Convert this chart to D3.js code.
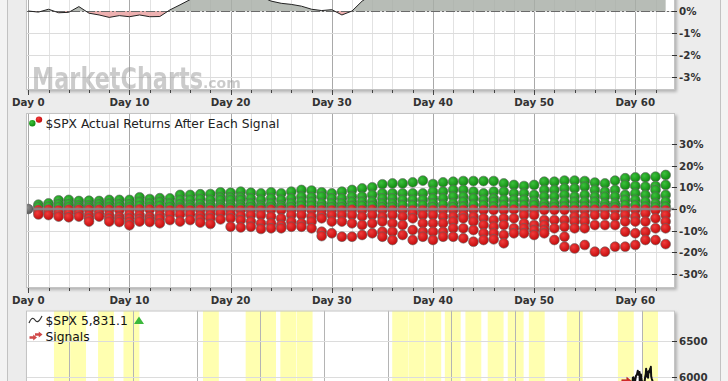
<!DOCTYPE html>
<html><head><meta charset="utf-8">
<script src="https://cdn.jsdelivr.net/npm/d3@7"></script>
<style>body{margin:0;background:#ececec;overflow:hidden}svg{display:block}</style>
</head><body><svg id="c" width="728" height="381"></svg>
<script>
// ---------------- DATA ----------------
// Top panel: average return (%) by day after signal
const avgDays = d3.range(0, 64);
const avgReturn = [0,-0.05,0.08,-0.08,-0.06,0.2,-0.1,-0.18,-0.29,-0.21,-0.26,-0.18,-0.26,-0.25,0.05,0.28,
  0.52,0.75,0.9,1.05,1.1,1.0,0.85,0.65,0.45,0.35,0.3,0.22,0.08,0.02,0.06,-0.18,0.0,0.45,0.75,1.0,
  1.2,1.3,1.4,1.5,1.45,1.55,1.7,1.8,1.7,1.6,1.75,1.65,1.6,1.7,1.65,1.9,2.0,2.1,2.15,2.2,2.1,2.05,
  2.2,2.4,2.45,2.5,2.6,2.7];

// Middle panel: actual returns (%) of each signal, per day after the signal
const returnDays = d3.range(1, 64);
const returnsByDay = [
 [2.0,1.0,-0.4,-1.5,-2.5],
 [2.6,1.2,-0.3,-1.8,-2.8],
 [4.0,2.3,1.0,-0.5,-2.0,-3.5],
 [4.2,2.3,1.0,-0.3,-2.0,-3.8],
 [3.7,1.8,0.8,-0.3,-2.0,-3.5],
 [3.8,1.8,0.8,-0.3,-2.8,-4.3,-5.8],
 [3.7,2.3,1.0,-0.3,-2.0,-3.5],
 [4.2,2.6,1.0,-0.3,-2.8,-4.3,-5.8],
 [4.2,2.3,1.0,-0.5,-3.5,-4.8,-6.0],
 [4.2,2.3,1.0,-0.3,-2.5,-4.3,-6.0,-7.5],
 [5.4,3.4,1.5,-0.2,-2.8,-4.5,-5.8],
 [4.6,2.6,1.0,-0.2,-3.5,-4.8,-6.0],
 [5.0,3.4,1.5,-0.3,-2.8,-4.5,-6.6],
 [4.9,2.6,1.0,-0.5,-2.5,-5.1],
 [6.5,4.2,2.3,0.8,-0.2,-2.5,-5.8],
 [6.5,4.2,2.0,0.8,-0.5,-2.5,-5.1],
 [6.8,4.6,2.3,0.8,-0.3,-2.8,-4.5,-6.3],
 [6.9,4.2,2.0,0.8,-0.5,-2.5,-4.3,-6.9],
 [7.7,5.5,4.2,2.0,0.8,-0.3,-2.0,-4.8],
 [7.5,5.5,4.2,2.0,0.8,-0.5,-2.5,-4.3,-8.2],
 [8.0,5.5,4.2,2.0,0.8,-0.5,-3.0,-5.1,-8.5],
 [7.5,4.9,2.6,1.0,-0.5,-2.8,-5.8,-8.2],
 [7.2,4.2,1.8,0.8,-0.5,-2.8,-6.6,-9.2],
 [7.7,4.9,2.6,1.0,-0.3,-3.5,-6.6,-8.9],
 [7.2,4.2,1.8,0.8,-0.5,-4.3,-7.4,-8.9],
 [8.0,4.9,2.6,1.0,-0.5,-2.8,-5.8,-8.2],
 [8.8,5.7,3.4,1.5,-0.3,-2.8,-6.6,-8.2],
 [8.5,5.4,3.4,1.5,-0.5,-3.5,-5.8,-8.9],
 [7.7,5.7,2.6,1.0,-0.5,-2.8,-4.3,-10.5,-12.5],
 [7.2,4.9,2.6,1.0,-0.5,-2.8,-5.8,-11.2],
 [8.0,4.9,2.6,1.0,-0.5,-2.8,-5.8,-12.8],
 [8.8,5.7,3.4,1.5,-0.3,-2.8,-6.6,-12.8],
 [9.5,5.7,3.4,1.5,-0.5,-3.5,-7.4,-12.0],
 [10.0,6.5,3.4,1.5,-0.3,-2.8,-6.6,-11.2],
 [11.4,7.2,4.9,2.6,1.0,-0.5,-3.5,-5.8,-10.5,-12.8],
 [11.8,7.2,4.9,2.6,1.0,-0.5,-2.8,-6.6,-10.5,-14.3],
 [11.8,7.2,4.2,1.8,-0.5,-3.5,-7.4,-12.0],
 [12.3,7.2,4.2,1.8,-0.5,-2.0,-4.3,-9.7,-14.3],
 [13.1,7.2,4.2,1.8,-0.5,-2.8,-6.6,-10.5,-12.8],
 [11.5,8.0,4.9,2.6,1.0,-0.5,-2.8,-6.6,-10.5,-14.3],
 [12.3,8.0,4.9,2.0,-0.5,-3.5,-6.6,-10.5,-12.8],
 [12.6,8.8,5.7,2.6,1.0,-0.5,-3.5,-5.8,-8.9,-12.8],
 [12.9,8.8,5.7,3.4,1.2,-0.5,-2.8,-4.3,-8.9,-13.5],
 [12.9,8.0,4.9,2.0,-0.3,-3.5,-5.8,-9.7,-15.1],
 [12.9,7.2,4.2,1.8,-0.5,-4.3,-7.4,-11.2,-14.3],
 [12.9,8.0,4.9,3.4,1.2,-0.5,-5.1,-8.2,-11.2,-14.0],
 [11.8,8.0,4.2,1.8,-0.5,-4.3,-7.4,-12.0,-15.8],
 [11.1,7.2,4.2,1.8,-0.3,-4.3,-8.9,-11.2],
 [10.6,7.2,4.2,1.8,-0.5,-2.8,-6.6,-8.9,-11.2],
 [11.1,6.5,3.4,1.8,-0.5,-2.8,-7.4,-9.7,-12.0],
 [12.6,8.8,5.7,2.6,1.0,-0.5,-5.1,-7.4,-9.7,-11.2],
 [12.6,8.8,5.7,2.6,1.0,-0.5,-5.1,-8.9,-14.3],
 [13.1,9.5,6.5,3.4,1.2,-0.5,-5.1,-8.2,-12.8,-17.4],
 [13.1,9.5,5.7,3.4,1.2,-0.5,-3.5,-5.8,-8.9,-18.2],
 [12.9,10.3,6.5,3.4,1.2,-0.5,-3.5,-5.8,-8.9,-16.6],
 [12.2,8.8,5.7,3.4,1.2,-0.3,-2.8,-7.4,-19.7],
 [11.8,8.0,5.7,2.6,1.0,-0.3,-2.8,-7.4,-19.7],
 [13.1,8.8,5.7,2.6,1.0,-0.3,-3.5,-7.4,-17.4],
 [14.2,11.1,6.5,4.2,1.8,-0.5,-2.8,-5.8,-10.5,-17.4],
 [14.6,10.6,7.2,4.2,1.8,-0.3,-3.5,-5.8,-11.2,-16.6],
 [14.6,10.3,6.5,3.4,1.2,-0.3,-2.0,-5.8,-10.5,-14.3],
 [14.9,10.6,8.8,5.7,2.6,1.0,-0.5,-4.3,-8.9,-14.3],
 [15.7,11.1,6.5,3.4,1.2,-0.5,-2.8,-5.8,-8.9,-16.2]
];

// Axis tick values
const dayLabelTicks = [0,10,20,30,40,50,60];
const topPctTicks = [0,-1,-2,-3];
const midPctTicks = [30,20,10,0,-10,-20,-30];
const priceTicks = [6000,6500];

// Bottom panel: $SPX price and signal dates
const priceDates = ["2015-04-01","2015-07-01","2015-10-01","2016-01-04","2016-04-01","2016-07-01","2016-10-03",
 "2017-01-03","2017-04-03","2017-07-03","2017-10-02","2018-01-02","2018-04-02","2018-07-02","2018-10-01",
 "2019-01-02","2019-04-01","2019-07-01","2019-10-01","2020-01-02","2020-04-01","2020-07-01","2020-10-01",
 "2021-01-04","2021-04-01","2021-07-01","2021-10-01","2022-01-03","2022-04-01","2022-07-01","2022-10-03",
 "2023-01-03","2023-04-03","2023-07-03","2023-10-02","2024-01-02","2024-04-01","2024-07-01","2024-09-03",
 "2024-10-15","2024-11-01","2024-11-05","2024-11-06","2024-11-08","2024-11-11","2024-11-12","2024-11-15",
 "2024-11-19","2024-11-22","2024-11-26","2024-11-29","2024-12-02","2024-12-06","2024-12-10","2024-12-13",
 "2024-12-16","2024-12-18","2024-12-20","2024-12-24","2024-12-27","2024-12-31","2025-01-03","2025-01-07",
 "2025-01-10","2025-01-13","2025-01-15","2025-01-17","2025-01-21","2025-01-23","2025-01-27","2025-01-30",
 "2025-02-03","2025-02-06","2025-02-11","2025-02-14","2025-02-18","2025-02-19","2025-02-21","2025-02-24",
 "2025-02-28","2025-03-03","2025-03-07","2025-03-13","2025-03-20","2025-03-28"];
const priceValues = [2085,2100,2080,1940,2065,2170,2126,2278,2384,2470,2575,2823,2648,2816,2711,
 2704,2945,2980,3037,3225,2912,3271,3270,3714,4181,4395,4605,4515,4131,4130,3872,
 4076,4169,4588,4194,4845,5035,5522,5762,5815,5729,5782,5929,5995,6001,5983,5870,
 5917,5969,6021,6032,6047,6090,6034,6051,6074,5872,5930,6040,5970,5882,5942,5909,
 5827,5836,5950,5997,6049,6119,6012,6071,5994,6084,6069,6115,6129,6144,6013,5983,
 5955,5850,5770,5522,5663,5831.1];
const signalDates = ["2016-01-04","2016-04-06","2016-09-13","2017-02-06","2018-05-08","2019-01-08","2019-04-01",
 "2019-07-26","2019-10-28","2021-04-28","2021-07-30","2021-11-04","2022-02-24","2022-06-22","2022-10-28",
 "2023-02-20","2023-06-21","2024-01-25","2024-11-13","2025-04-01"];
const windowDays = 91; // 63 trading days

// ---------------- DRAW ----------------
const W = 728, H = 381;
const FONT = "'DejaVu Sans', Verdana, sans-serif";
const svg = d3.select('#c');
const defs = svg.append('defs');
const parse = d3.timeParse('%Y-%m-%d');

svg.append('rect').attr('width', W).attr('height', H).attr('fill', '#ececec');
svg.append('rect').attr('x', 0).attr('width', 8).attr('height', H).attr('fill', '#f3f3f3');
svg.append('rect').attr('x', 720).attr('width', 8).attr('height', H).attr('fill', '#f3f3f3');
svg.append('line').attr('x1', 7.5).attr('x2', 7.5).attr('y1', 0).attr('y2', H).attr('stroke', '#c2c2c2');
svg.append('line').attr('x1', 720.5).attr('x2', 720.5).attr('y1', 0).attr('y2', H).attr('stroke', '#c2c2c2');

const blur = defs.append('filter').attr('id', 'sh').attr('x', '-5%').attr('y', '-5%').attr('width', '110%').attr('height', '110%');
blur.append('feGaussianBlur').attr('stdDeviation', 1.5);

function grad(id, c0, c1) {
  const g = defs.append('radialGradient').attr('id', id).attr('cx', '38%').attr('cy', '35%').attr('r', '65%');
  g.append('stop').attr('offset', '0%').attr('stop-color', c0);
  g.append('stop').attr('offset', '100%').attr('stop-color', c1);
}
grad('gG', '#3cc03c', '#0f8a0f');
grad('gR', '#f03c3c', '#c40c0c');
grad('gK', '#909090', '#5a5a5a');

const plotL = 26, plotR = 675;
const x = d3.scaleLinear().domain([0, 60]).range([28.3, 635.3]);

function panel(top, bottom, id) {
  svg.append('rect').attr('x', plotL + 2).attr('y', top + 2).attr('width', plotR - plotL).attr('height', bottom - top)
    .attr('fill', '#b4b4b4').attr('filter', 'url(#sh)');
  svg.append('rect').attr('x', plotL).attr('y', top).attr('width', plotR - plotL).attr('height', bottom - top)
    .attr('fill', '#fff');
  defs.append('clipPath').attr('id', id).append('rect')
    .attr('x', plotL).attr('y', top).attr('width', plotR - plotL).attr('height', bottom - top);
  return svg.append('g').attr('clip-path', `url(#${id})`);
}
function border(top, bottom) {
  svg.append('rect').attr('x', plotL + 0.5).attr('y', top + 0.5).attr('width', plotR - plotL - 1).attr('height', bottom - top - 1)
    .attr('fill', 'none').attr('stroke', '#c4c4c4');
}
function dayGrid(g, top, bottom) {
  const days = d3.range(0, 65, 2);
  g.selectAll(null).data(days).join('line')
    .attr('x1', d => Math.round(x(d)) + 0.5).attr('x2', d => Math.round(x(d)) + 0.5)
    .attr('y1', top).attr('y2', bottom)
    .attr('stroke', d => d % 10 === 0 ? '#a9a9a9' : '#e2e2e2');
}
function hGrid(g, vals, y) {
  g.selectAll(null).data(vals).join('line')
    .attr('x1', plotL).attr('x2', plotR)
    .attr('y1', d => Math.round(y(d)) + 0.5).attr('y2', d => Math.round(y(d)) + 0.5)
    .attr('stroke', '#dcdcdc');
}
function dayAxis(bottom) {
  const days = d3.range(0, 64, 2);
  svg.selectAll(null).data(days).join('line')
    .attr('x1', d => Math.round(x(d)) + 0.5).attr('x2', d => Math.round(x(d)) + 0.5)
    .attr('y1', bottom).attr('y2', d => bottom + (d % 10 === 0 ? 5 : 3))
    .attr('stroke', '#444');
  svg.selectAll(null).data(dayLabelTicks).join('text')
    .attr('x', d => x(d)).attr('y', bottom + 16).attr('text-anchor', 'middle')
    .attr('font-family', FONT).attr('font-weight', 'bold').attr('font-size', '10.3px').attr('fill', '#333')
    .text(d => 'Day ' + d);
}
function yAxis(vals, y, fmt, top, bottom) {
  const v = vals.filter(d => y(d) >= top - 1 && y(d) <= bottom + 12);
  svg.selectAll(null).data(v).join('line')
    .attr('x1', plotR - 3).attr('x2', plotR + 2)
    .attr('y1', d => Math.round(y(d)) + 0.5).attr('y2', d => Math.round(y(d)) + 0.5).attr('stroke', '#333');
  svg.selectAll(null).data(v).join('text')
    .attr('x', 679).attr('y', d => y(d)).attr('dy', '0.38em')
    .attr('font-family', FONT).attr('font-weight', 'bold').attr('font-size', '10.3px').attr('fill', '#333')
    .text(fmt);
}

// ---- Panel 1 ----
const p1Top = -120, p1Bot = 90;
const y1 = d3.scaleLinear().domain([0, -3]).range([11, 77]);
const g1 = panel(p1Top, p1Bot, 'c1');
dayGrid(g1, p1Top, p1Bot);
hGrid(g1, [3, 2, 1, 0, -1, -2, -3], y1);
// watermark (one text element so the parts do not collide)
const wm = g1.append('text').attr('x', 32).attr('y', 89).attr('font-family', FONT).attr('font-weight', 'bold')
  .attr('fill', '#999').attr('opacity', 0.5);
wm.append('tspan').attr('font-size', '30px').attr('textLength', 171).attr('lengthAdjust', 'spacingAndGlyphs').text('MarketCharts');
wm.append('tspan').attr('font-size', '14px').attr('dy', -1).text('.com');
const avg = avgDays.map((d, i) => ({ d, v: avgReturn[i] }));
const area = d3.area().x(p => x(p.d)).y0(y1(0)).y1(p => y1(p.v));
defs.append('clipPath').attr('id', 'abv').append('rect').attr('x', 0).attr('y', p1Top).attr('width', W).attr('height', y1(0) - p1Top);
defs.append('clipPath').attr('id', 'blw').append('rect').attr('x', 0).attr('y', y1(0)).attr('width', W).attr('height', 200);
g1.append('g').attr('clip-path', 'url(#abv)').append('path').datum(avg).attr('d', area)
  .attr('fill', '#a7ada6').attr('fill-opacity', 0.82);
g1.append('g').attr('clip-path', 'url(#blw)').append('path').datum(avg).attr('d', area)
  .attr('fill', '#eba3a3').attr('fill-opacity', 0.85);
g1.append('line').attr('x1', plotL).attr('x2', plotR).attr('y1', y1(0) + 0.5).attr('y2', y1(0) + 0.5)
  .attr('stroke', '#6a6a6a').attr('stroke-dasharray', '9,2,2,2');
g1.append('path').datum(avg).attr('d', d3.line().x(p => x(p.d)).y(p => y1(p.v)))
  .attr('fill', 'none').attr('stroke', '#222').attr('stroke-width', 1);
border(p1Top, p1Bot);
dayAxis(p1Bot);
yAxis(topPctTicks, y1, d => d + '%', 0, p1Bot);

// ---- Panel 2 ----
const p2Top = 113, p2Bot = 288;
const y2 = d3.scaleLinear().domain([30, -30]).range([144, 274]);
const g2 = panel(p2Top, p2Bot, 'c2');
dayGrid(g2, p2Top, p2Bot);
hGrid(g2, midPctTicks, y2);
const pts = [];
returnDays.forEach((d, i) => returnsByDay[i].forEach(v => pts.push({ d, v })));
g2.append('g').selectAll('circle').data(pts).join('circle')
  .attr('cx', p => x(p.d)).attr('cy', p => y2(p.v)).attr('r', 4.9)
  .attr('fill', p => p.v >= 0 ? 'url(#gG)' : 'url(#gR)')
  .attr('stroke', '#666').attr('stroke-opacity', 0.7).attr('stroke-width', 0.9);
g2.append('line').attr('x1', plotL).attr('x2', plotR).attr('y1', y2(0)).attr('y2', y2(0))
  .attr('stroke', '#8a8a8a').attr('stroke-width', 2.5).attr('stroke-opacity', 0.85);
g2.append('circle').attr('cx', x(0)).attr('cy', y2(0)).attr('r', 4.8).attr('fill', 'url(#gK)')
  .attr('stroke', '#555').attr('stroke-opacity', 0.6);
border(p2Top, p2Bot);
dayAxis(p2Bot);
yAxis(midPctTicks, y2, d => d + '%', p2Top, p2Bot);
// legend
svg.append('circle').attr('cx', 32.3).attr('cy', 123.3).attr('r', 3.2).attr('fill', 'url(#gG)');
svg.append('circle').attr('cx', 39).attr('cy', 119.6).attr('r', 3.2).attr('fill', 'url(#gR)');
svg.append('text').attr('x', 45.5).attr('y', 127.5).attr('font-family', FONT).attr('font-size', '12.3px')
  .attr('fill', '#222').text('$SPX Actual Returns After Each Signal');

// ---- Panel 3 ----
const p3Top = 310.5, p3Bot = 440;
const xt = d3.scaleTime().domain([new Date(2016, 0, 1), new Date(2025, 0, 1)]).range([69.3, 642.3]);
const y3 = d3.scaleLinear().domain([6000, 6500]).range([377.3, 341]);
const g3 = panel(p3Top, p3Bot, 'c3');
const sig = signalDates.map(parse);
g3.selectAll(null).data(sig).join('rect')
  .attr('x', s => xt(d3.timeDay.offset(s, -windowDays)))
  .attr('width', s => xt(s) - xt(d3.timeDay.offset(s, -windowDays)))
  .attr('y', p3Top).attr('height', p3Bot - p3Top).attr('fill', '#ffffb0');
const years = d3.timeYear.range(new Date(2015, 0, 1), new Date(2026, 0, 2));
g3.selectAll(null).data(years).join('line')
  .attr('x1', d => Math.round(xt(d)) + 0.5).attr('x2', d => Math.round(xt(d)) + 0.5)
  .attr('y1', p3Top).attr('y2', p3Bot).attr('stroke', '#b4b4b4');
hGrid(g3, [5500, 6000, 6500], y3);
const price = priceDates.map((d, i) => ({ t: parse(d), v: priceValues[i] }));
g3.append('path').datum(price).attr('d', d3.line().x(p => xt(p.t)).y(p => y3(p.v)))
  .attr('fill', 'none').attr('stroke', '#111').attr('stroke-width', 2).attr('stroke-linejoin', 'round');
const bis = d3.bisector(p => p.t).left;
function priceAt(t) {
  const i = Math.min(Math.max(bis(price, t), 1), price.length - 1);
  const a = price[i - 1], b = price[i];
  const f = Math.max(0, Math.min(1, (t - a.t) / (b.t - a.t)));
  return a.v + (b.v - a.v) * f;
}
const arrowPath = 'M0,0 L-5,-4 L-5,-1.6 L-10,-1.6 L-10,1.6 L-5,1.6 L-5,4 Z';
g3.selectAll(null).data(sig).join('path')
  .attr('transform', s => `translate(${xt(s) - 2},${y3(priceAt(s))})`)
  .attr('d', arrowPath).attr('fill', '#d42a2a').attr('stroke', '#a01818').attr('stroke-width', 0.5);
border(p3Top, p3Bot);
yAxis(priceTicks, y3, d => d, p3Top, H);
// legend
svg.append('path').attr('d', 'M29,323 C31,318 33,317 35,320 C37,323 39,322 42,316')
  .attr('fill', 'none').attr('stroke', '#333').attr('stroke-width', 1.2);
svg.append('text').attr('x', 45.5).attr('y', 324.5).attr('font-family', FONT).attr('font-size', '12.3px')
  .attr('fill', '#111').text('$SPX ' + d3.format(',.1f')(priceValues[priceValues.length - 1]));
svg.append('path').attr('d', 'M134,324 L139,316.5 L144,324 Z').attr('fill', '#3cb83c');
svg.append('path').attr('transform', 'translate(37,337.5) scale(0.75)').attr('d', arrowPath).attr('fill', '#d04848');
svg.append('path').attr('transform', 'translate(42.5,334.5) scale(0.75)').attr('d', arrowPath).attr('fill', '#d04848');
svg.append('text').attr('x', 45.5).attr('y', 341).attr('font-family', FONT).attr('font-size', '12.3px')
  .attr('fill', '#111').text('Signals');
</script></body></html>
